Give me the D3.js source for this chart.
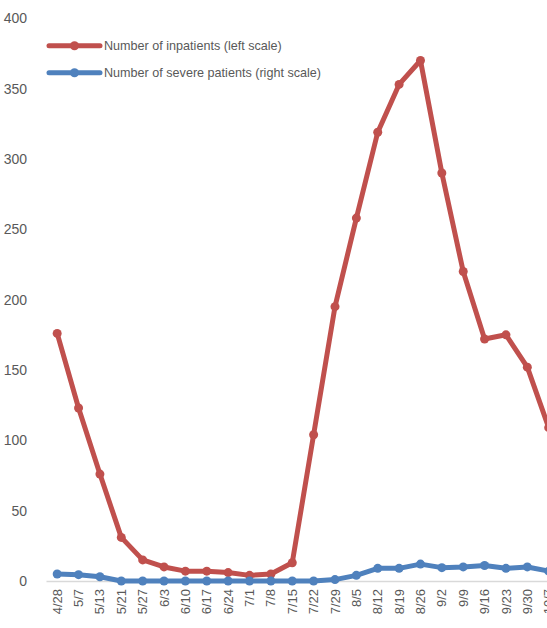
<!DOCTYPE html>
<html>
<head>
<meta charset="utf-8">
<script src="https://cdn.jsdelivr.net/npm/d3@7"></script>
<style>
html,body{margin:0;padding:0;background:#fff;overflow:hidden;}
svg{display:block;}
</style>
</head>
<body>
<svg id="chart" width="547" height="628"></svg>
<script>
const dates = ["4/28","5/7","5/13","5/21","5/27","6/3","6/10","6/17","6/24","7/1","7/8","7/15","7/22","7/29","8/5","8/12","8/19","8/26","9/2","9/9","9/16","9/23","9/30","10/7"];
const inpatients = [176,123,76,31,15,10,7,7,6,4,5,13,104,195,258,319,353,370,290,220,172,175,152,109];
const severe = [5,4.5,3,0,0,0,0,0,0,0,0,0,0,1,4,9,9,12,9.5,10,11,9,10,7];
const leftTicks = [0,50,100,150,200,250,300,350,400];
const seriesNames = ["Number of inpatients (left scale)","Number of severe patients (right scale)"];
const colors = ["#C0504D","#4F81BD"];

const svg = d3.select("#chart");
const font = "'Liberation Sans', Arial, sans-serif";

const x = d3.scaleBand().domain(dates).range([46.5, 46.5 + dates.length * 21.37]);
const yL = d3.scaleLinear().domain([0,400]).range([581, 18.3]);
const yR = d3.scaleLinear().domain([0,400]).range([581, 18.3]);

// left axis labels
const yAxis = d3.axisLeft(yL).tickValues(leftTicks).tickSize(0).tickPadding(0);
const gy = svg.append("g").attr("transform","translate(27,0)").call(yAxis);
gy.select(".domain").remove();
gy.selectAll("text").attr("font-family",font).attr("font-size",14).attr("fill","#595959");

// baseline
svg.append("line").attr("x1",46.5).attr("x2",x.range()[1]).attr("y1",581.5).attr("y2",581.5)
  .attr("stroke","#D9D9D9").attr("stroke-width",1.5);

// x axis labels
const xAxis = d3.axisBottom(x).tickSize(0).tickPadding(0);
const gx = svg.append("g").attr("transform","translate(0,589)").call(xAxis);
gx.select(".domain").remove();
gx.selectAll("text")
  .attr("font-family",font).attr("font-size",13).attr("fill","#595959")
  .attr("text-anchor","end").attr("dy","0.35em")
  .attr("transform","rotate(-90)").attr("x",0).attr("y",0);

function drawSeries(vals, yScale, color){
  const line = d3.line().x((d,i)=>x(dates[i]) + x.bandwidth()/2).y(d=>yScale(d));
  svg.append("path").datum(vals).attr("d",line).attr("fill","none")
    .attr("stroke",color).attr("stroke-width",5).attr("stroke-linejoin","round").attr("stroke-linecap","round");
  svg.append("g").selectAll("circle").data(vals).join("circle")
    .attr("cx",(d,i)=>x(dates[i]) + x.bandwidth()/2).attr("cy",d=>yScale(d)).attr("r",4.5).attr("fill",color);
}
drawSeries(inpatients, yL, colors[0]);
drawSeries(severe, yR, colors[1]);

// legend
const lg = svg.append("g");
[45.7, 72.7].forEach((yy, i) => {
  lg.append("line").attr("x1",49).attr("x2",100).attr("y1",yy).attr("y2",yy)
    .attr("stroke",colors[i]).attr("stroke-width",5).attr("stroke-linecap","round");
  lg.append("circle").attr("cx",74.5).attr("cy",yy).attr("r",4.5).attr("fill",colors[i]);
  lg.append("text").attr("x",104).attr("y",yy).attr("dy","0.35em")
    .attr("font-family",font).attr("font-size",12.6).attr("fill","#595959").text(seriesNames[i]);
});
</script>
</body>
</html>
